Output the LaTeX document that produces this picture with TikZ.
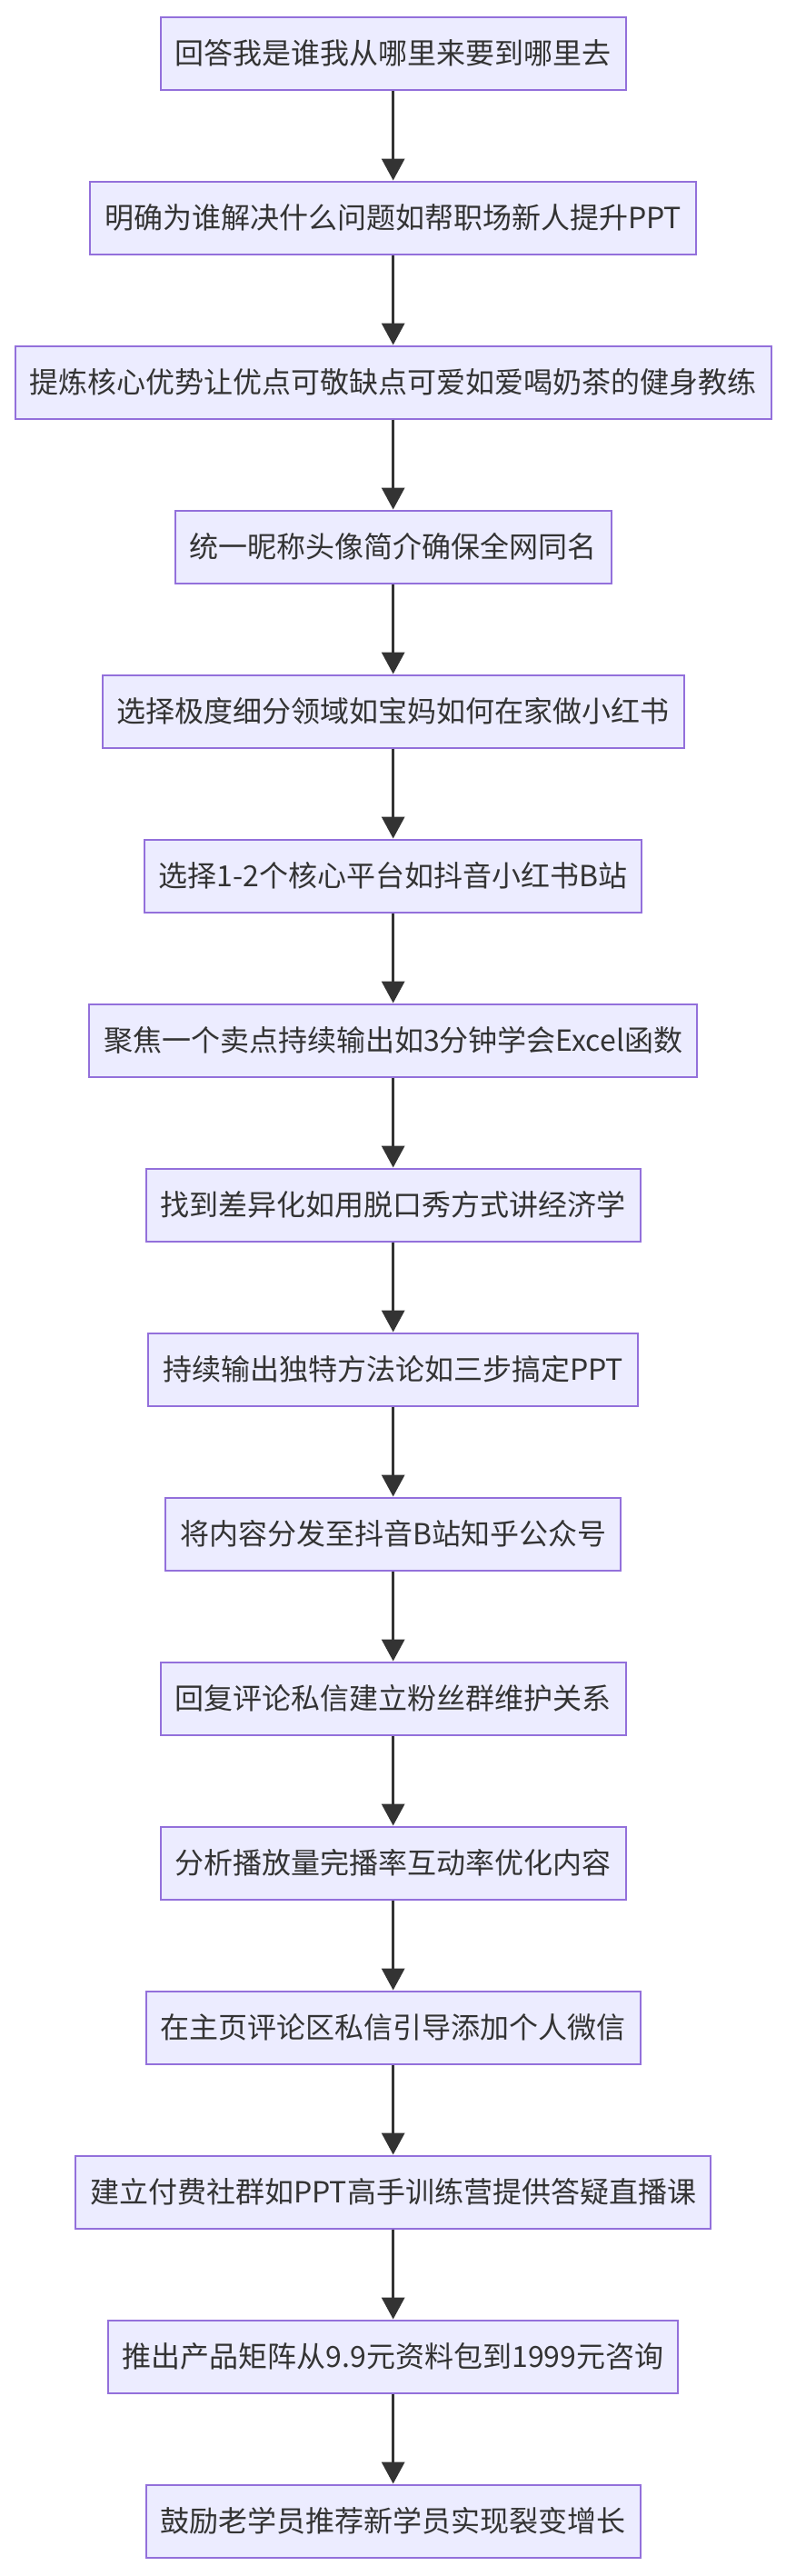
\documentclass[tikz,border=0pt]{standalone}
\usepackage{fontspec}
\setmainfont{Noto Sans CJK SC}
\usepackage{xcolor}
\usetikzlibrary{positioning, arrows.meta}
\definecolor{stepclr}{HTML}{ECECFF}
\definecolor{edgeclr}{HTML}{9370DB}
\definecolor{lineclr}{HTML}{333333}

\begin{document}
\begin{tikzpicture}[
    font=\fontsize{24pt}{28pt}\selectfont,
    >={Triangle[length=18pt, width=18.75pt]},
    node distance=74.25pt,
    stepbox/.style={draw=edgeclr, fill=stepclr, line width=1.5pt,
                    text=lineclr, minimum height=60pt, inner xsep=12pt,
                    inner ysep=0pt},
    flow/.style   ={->, line width=2.5pt, draw=lineclr},
]

% =============== Page frame ===============
\useasboundingbox (0,0) rectangle (648pt,-2125.5pt);

% =============== Steps ===============
\node[stepbox] (who) at (324.5pt,-43.9pt) {回答我是谁我从哪里来要到哪里去};
\node[stepbox, below=of who]   (aud)   {明确为谁解决什么问题如帮职场新人提升PPT};
\node[stepbox, below=of aud]   (adv)   {提炼核心优势让优点可敬缺点可爱如爱喝奶茶的健身教练};
\node[stepbox, below=of adv]   (nick)  {统一昵称头像简介确保全网同名};
\node[stepbox, below=of nick]  (niche) {选择极度细分领域如宝妈如何在家做小红书};
\node[stepbox, below=of niche] (plat)  {选择1-2个核心平台如抖音小红书B站};
\node[stepbox, below=of plat]  (focus) {聚焦一个卖点持续输出如3分钟学会Excel函数};
\node[stepbox, below=of focus] (diff)  {找到差异化如用脱口秀方式讲经济学};
\node[stepbox, below=of diff]  (meth)  {持续输出独特方法论如三步搞定PPT};
\node[stepbox, below=of meth]  (dist)  {将内容分发至抖音B站知乎公众号};
\node[stepbox, below=of dist]  (fans)  {回复评论私信建立粉丝群维护关系};
\node[stepbox, below=of fans]  (stats) {分析播放量完播率互动率优化内容};
\node[stepbox, below=of stats] (wx)    {在主页评论区私信引导添加个人微信};
\node[stepbox, below=of wx]    (paid)  {建立付费社群如PPT高手训练营提供答疑直播课};
\node[stepbox, below=of paid]  (prod)  {推出产品矩阵从9.9元资料包到1999元咨询};
\node[stepbox, below=of prod]  (fiss)  {鼓励老学员推荐新学员实现裂变增长};

% =============== Wires ===============
\foreach \src/\dst in {who/aud, aud/adv, adv/nick, nick/niche, niche/plat,
                       plat/focus, focus/diff, diff/meth, meth/dist, dist/fans,
                       fans/stats, stats/wx, wx/paid, paid/prod, prod/fiss}{%
  \draw[flow] (\src.south) -- (\dst.north);
}

\end{tikzpicture}
\end{document}
